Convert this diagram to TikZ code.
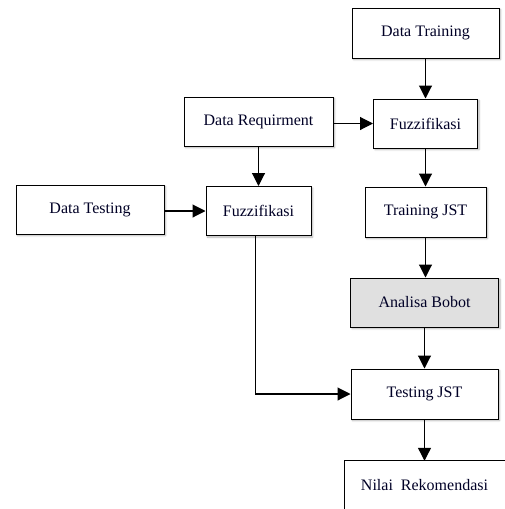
\documentclass[tikz,border=0pt]{standalone}
\usepackage{fontspec}
\setmainfont{Liberation Serif}
\usetikzlibrary{arrows.meta,shadows.blur}
\begin{document}
\begin{tikzpicture}[x=1pt,y=-1pt,
  box/.style={draw=black, line width=1pt, fill=white, inner sep=0pt,
    font=\fontsize{16}{19}\selectfont, text=black!85!blue,
    blur shadow={shadow xshift=1.5pt, shadow yshift=-1.5pt, shadow blur steps=6, shadow opacity=30}},
  flow/.style={line width=1.1pt, -{Triangle[length=13pt,width=13pt]}}]
\useasboundingbox (0,0) rectangle (504,509);

% process boxes
\node[box, minimum width=147pt, minimum height=50pt] (dtrain) at (425.5,33) {Data Training};
\node[box, minimum width=104pt, minimum height=49pt] (fuzzr) at (425.5,123.5) {Fuzzifikasi};
\node[box, minimum width=149pt, minimum height=49pt] (dreq) at (258.5,121.5) {Data Requirment};
\node[box, minimum width=148pt, minimum height=49pt] (dtest) at (90,209.5) {Data Testing};
\node[box, minimum width=105pt, minimum height=49pt] (fuzzl) at (258.5,211) {Fuzzifikasi};
\node[box, minimum width=121pt, minimum height=50pt] (trainjst) at (425.5,212) {Training JST};
\node[box, fill=black!12, minimum width=148pt, minimum height=49pt] (bobot) at (424.5,302.5) {Analisa Bobot};
\node[box, minimum width=147pt, minimum height=50pt] (testjst) at (424.5,394) {Testing JST};

% output box, running past the page edge
\node[inner sep=0pt, minimum width=160pt, minimum height=48pt,
  font=\fontsize{16}{19}\selectfont, text=black!85!blue] (nilai) at (424.5,485) {Nilai\ \ Rekomendasi};
\draw[line width=1pt] (nilai.south west) -- (nilai.north west) -- (nilai.north east);

% connectors
\draw[flow] (dtrain.south) -- (dtrain.south |- fuzzr.north);
\draw[flow] (dreq.east |- fuzzr.west) -- (fuzzr.west);
\draw[flow] (dreq.south) -- (fuzzl.north);
\draw[flow] (dtest.east |- fuzzl.west) -- (fuzzl.west);
\draw[flow] (fuzzr.south) -- (fuzzr.south |- trainjst.north);
\draw[flow] (trainjst.south) -- (trainjst.south |- bobot.north);
\draw[flow] (bobot.south) -- (bobot.south |- testjst.north);
\draw[flow] ([xshift=-3pt]fuzzl.south) |- (testjst.west);
\draw[flow] (testjst.south) -- (testjst.south |- nilai.north);
\end{tikzpicture}
\end{document}
